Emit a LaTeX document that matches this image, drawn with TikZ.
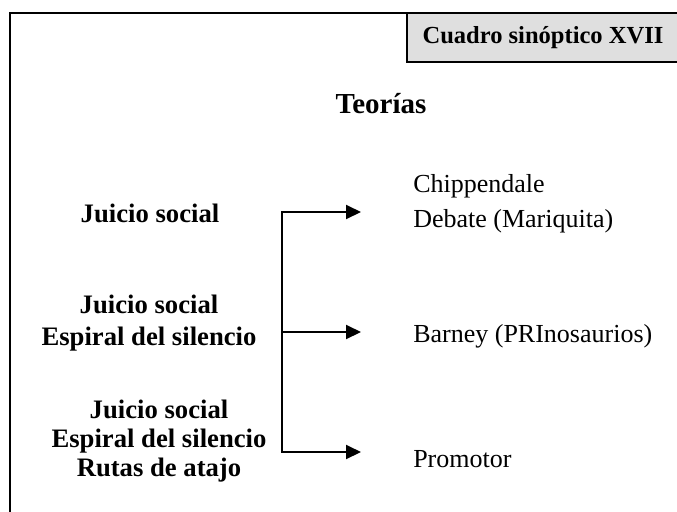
\documentclass[tikz,border=0pt]{standalone}
\usepackage{fontspec}
\setmainfont{Liberation Serif}
\usetikzlibrary{arrows.meta, positioning}

\begin{document}
\begin{tikzpicture}[
    x=0.75pt, y=-0.75pt,
    lefttext/.style={anchor=north, inner sep=0pt, align=center, font=\fontsize{20}{24}\selectfont\bfseries},
    righttext/.style={inner sep=0pt, align=left, font=\fontsize{19.5}{26.25}\selectfont},
    titlebox/.style={draw, line width=1.5pt, outer sep=0pt, fill=gray!25, minimum width=204pt, minimum height=36.75pt, font=\fontsize{18.4}{22}\selectfont\bfseries},
    framebar/.style={line width=1.5pt},
    arrow/.style={-{Triangle[length=11.25pt, width=10.5pt]}, line width=1.5pt}
]
\useasboundingbox (0,0) rectangle (677,511);

\node[titlebox] (cuadro) at (543,37.5) {Cuadro sinóptico XVII};
\coordinate (corner) at (10,13);
\coordinate (bottom) at (10,520);
\draw[framebar] (cuadro.north west) -- (corner) -- (bottom);

\node[anchor=base, font=\fontsize{21.75}{26}\selectfont\bfseries] (teorias) at (381,113) {Teorías};

\node[lefttext] (grupo1) at (150,204) {Juicio social};
\node[lefttext] (grupo2) at (149,295) {Juicio social\\Espiral del silencio};
\node[lefttext, font=\fontsize{20}{21.75}\selectfont\bfseries] (grupo3) at (159,400) {Juicio social\\Espiral del silencio\\Rutas de atajo};

\node[righttext, anchor=north west] (teoria1) at (413,174) {Chippendale\\Debate (Mariquita)};
\node[righttext, anchor=base west] (teoria2) at (413,342) {Barney (PRInosaurios)};
\node[righttext, anchor=base west] (teoria3) at (413,467) {Promotor};

\coordinate (brtop) at (282,212);
\coordinate (brmid) at (282,332);
\coordinate (brbot) at (282,452);
\coordinate (tip1) at (361,212);
\coordinate (tip2) at (361,332);
\coordinate (tip3) at (361,452);

\draw[arrow] (brmid) -- (brtop) -- (tip1);
\draw[arrow] (brmid) -- (tip2);
\draw[arrow] (brmid) -- (brbot) -- (tip3);

\end{tikzpicture}
\end{document}
